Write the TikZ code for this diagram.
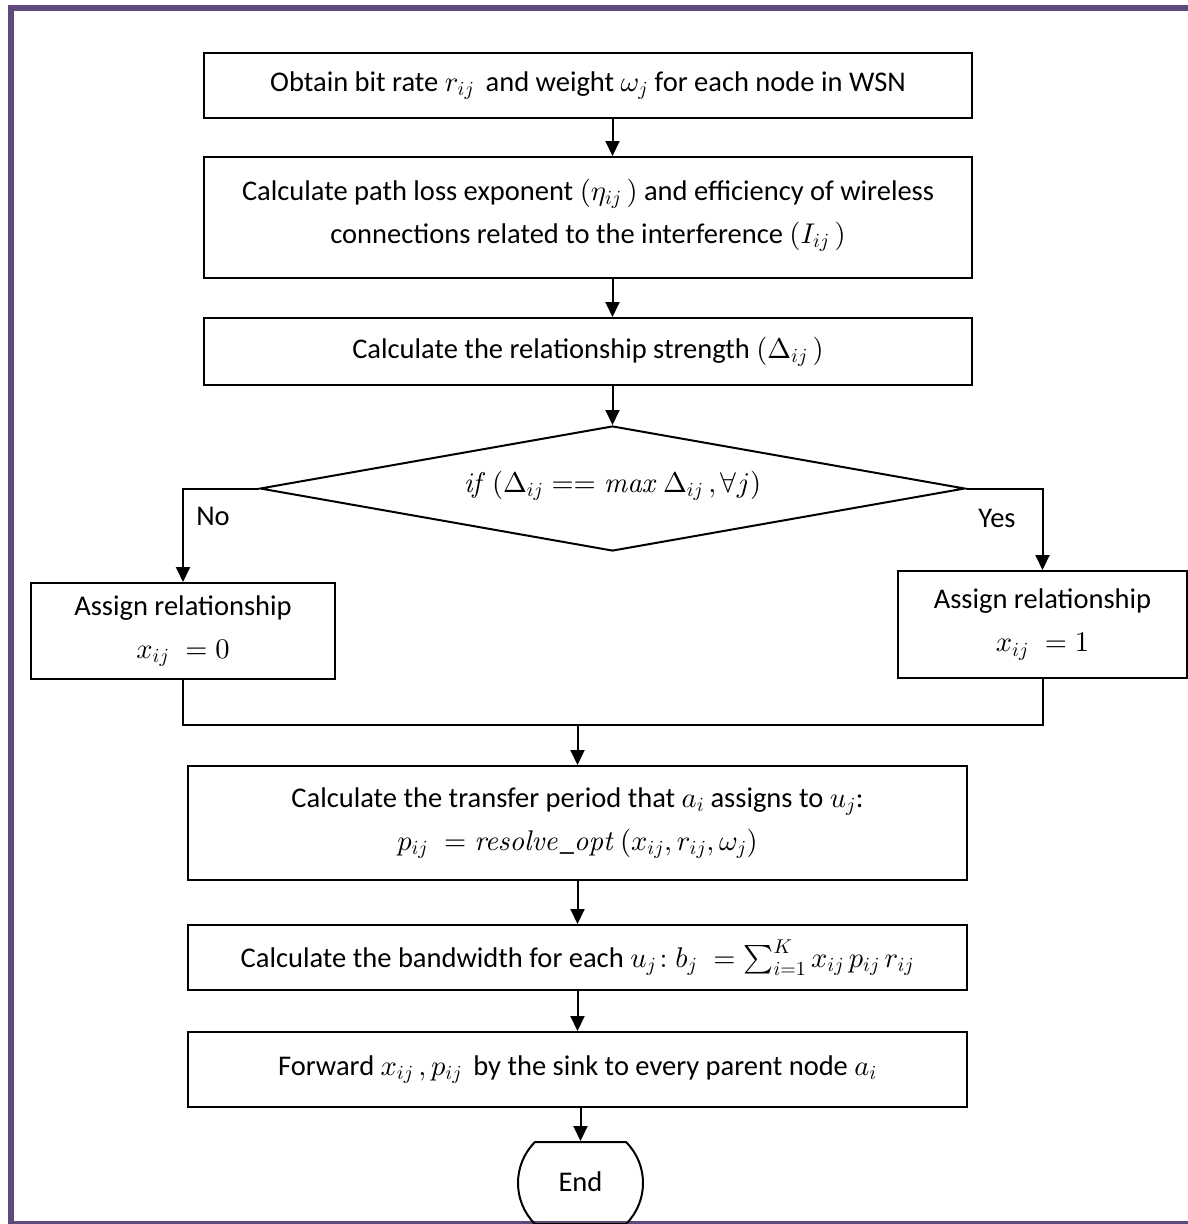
\documentclass[tikz,border=0pt]{standalone}
\usepackage[no-math]{fontspec}
\setmainfont{Carlito}
% scalable Computer Modern for math at large sizes
\DeclareFontShape{OML}{cmm}{m}{it}{<->cmmi10}{}
\DeclareFontShape{OMS}{cmsy}{m}{n}{<->cmsy10}{}
\DeclareFontShape{OMX}{cmex}{m}{n}{<->cmex10}{}
\DeclareFontShape{OT1}{cmr}{m}{n}{<->cmr10}{}
\DeclareFontShape{OT1}{cmr}{m}{it}{<->cmti10}{}
\usetikzlibrary{arrows.meta,shapes.geometric,shapes.misc}
\definecolor{framepurple}{RGB}{96,74,123}
\begin{document}
\begin{tikzpicture}[x=1pt,y=-1pt,
  font=\fontsize{28.5}{43}\selectfont,
  proc/.style={draw,line width=2pt,rectangle,inner sep=0pt,align=center},
  arr/.style={line width=2pt,-{Triangle[width=14pt,length=15pt]}},
  link/.style={line width=2pt,line join=miter},
  lbl/.style={inner sep=0pt}]
\useasboundingbox (0,0) rectangle (1188,1224);
\clip (0,0) rectangle (1188,1224);
% outer frame
\draw[framepurple,line width=6pt] (11,8) rectangle (1200,1224);

% process steps
\node[proc,minimum width=768pt,minimum height=65pt] (b1) at (588,85.5)
  {Obtain bit rate $r_{ij}$ \,and weight $\omega_j$ for each node in WSN};
\node[proc,minimum width=768pt,minimum height=121pt] (b2) at (588,217.5)
  {Calculate path loss exponent $\left(\eta_{ij}\,\right)$ and efficiency of wireless\\
   connections related to the interference $\left(I_{ij}\,\right)$\\[-31pt]\mbox{}};
\node[proc,minimum width=768pt,minimum height=67pt] (b3) at (588,351.5)
  {Calculate the relationship strength $\left(\Delta_{ij}\,\right)$};

% decision
\node[draw,diamond,line width=2pt,inner sep=0pt,shape aspect=5.64,
      minimum width=705pt,minimum height=125pt] (dec) at (612.5,488.5)
  {\raisebox{14pt}{$\mathit{if}\left(\Delta_{ij}==\mathit{max}\,\Delta_{ij}\,,\forall j\right)$}};

\node[proc,minimum width=304pt,minimum height=96pt] (lb) at (183,631)
  {Assign relationship\\$x_{ij}\;=0$};
\node[proc,minimum width=289pt,minimum height=107pt] (rb) at (1042.5,624.5)
  {Assign relationship\\$x_{ij}\;=1$};

\node[proc,minimum width=779pt,minimum height=114pt] (b4) at (577.5,823)
  {Calculate the transfer period that $a_i$ assigns to $u_j$:\\
   $p_{ij}\;=\mathit{resolve\_opt}\left(x_{ij},r_{ij},\omega_j\right)$};
\node[proc,minimum width=779pt,minimum height=65pt] (b5) at (577.5,957.5)
  {Calculate the bandwidth for each $u_j\!:b_j\;=\sum_{i=1}^{K}x_{ij}\,p_{ij}\,r_{ij}$};
\node[proc,minimum width=779pt,minimum height=75pt] (b6) at (577.5,1069.5)
  {Forward $x_{ij}\,,p_{ij}$ \,by the sink to every parent node $a_i$};

\node[draw,line width=2pt,rounded rectangle,rounded rectangle arc length=90,
      minimum width=125pt,minimum height=82pt,inner sep=0pt] (end) at (580.5,1183)
  {\raisebox{3pt}{End}};

% branch labels
\node[lbl] (no) at (213,516) {No};
\node[lbl] (yes) at (997,518) {Yes};

% connectors
\draw[arr] (b1.south -| dec.north) -- (b2.north -| dec.north);
\draw[arr] (b2.south -| dec.north) -- (b3.north -| dec.north);
\draw[arr] (b3.south -| dec.north) -- (dec.north);
\draw[arr] (dec.west) -| (lb.north);
\draw[arr] (dec.east) -| (rb.north);
\coordinate (m) at (577.5,725);
\draw[link] (lb.south) |- (m) -| (rb.south);
\draw[arr] (m) -- (b4.north);
\draw[arr] (b4.south) -- (b5.north);
\draw[arr] (b5.south) -- (b6.north);
\draw[arr] (b6.south -| end.north) -- (end.north);
\end{tikzpicture}
\end{document}
